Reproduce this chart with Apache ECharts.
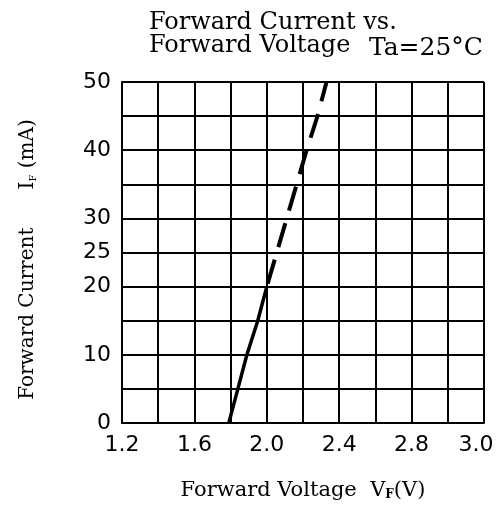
<!DOCTYPE html>
<html><head><meta charset="utf-8">
<script src="https://cdn.jsdelivr.net/npm/echarts@6/dist/echarts.min.js"></script>
<style>html,body{margin:0;padding:0;background:#fff}#c{width:503px;height:511px}</style>
</head><body><div id="c"></div>
<script>
// Forward current (mA) vs forward voltage (V)
const currents = [0, 5, 10, 15, 20, 25, 30, 35, 40, 45, 50];
const voltages = [1.79, 1.84, 1.89, 1.95, 2.00, 2.055, 2.11, 2.165, 2.22, 2.28, 2.33];
const solidUpTo = 20; // measured (solid) part; above this the curve is dashed
const xTickLabels = ['1.2', '1.6', '2.0', '2.4', '2.8', '3.0'];
const yTickLabels = [0, 10, 20, 25, 30, 40, 50];

const pts = currents.map((c, i) => [voltages[i], c]);
const solidPts = pts.filter(p => p[1] <= solidUpTo);
const dashedPts = pts.filter(p => p[1] >= solidUpTo).reverse();

const serif = 'DejaVu Serif';
const sans = 'DejaVu Sans';
const chart = echarts.init(document.getElementById('c'));
chart.setOption({
  backgroundColor: '#fff',
  animation: false,
  title: [
    { text: 'Forward Current vs.\nForward Voltage', left: 144, top: 6,
      textStyle: { fontFamily: serif, fontSize: 24, fontWeight: 'normal', lineHeight: 23, color: '#000' } },
    { text: 'Ta=25°C', right: 15, top: 31,
      textStyle: { fontFamily: serif, fontSize: 25, fontWeight: 'normal', color: '#000' } }
  ],
  grid: { left: 122, right: 19, top: 82, bottom: 88 },
  xAxis: {
    type: 'value', min: 1.2, max: 3.2, interval: 0.2,
    name: '{n|Forward Voltage  V}{s|F}{n|(V)}',
    nameLocation: 'middle', nameGap: 57,
    nameTextStyle: {
      rich: {
        n: { fontFamily: serif, fontSize: 21, color: '#000' },
        s: { fontFamily: serif, fontSize: 12, fontWeight: 'bold', color: '#000', verticalAlign: 'bottom', padding: [8, 0, 0, 0] }
      }
    },
    axisLine: { lineStyle: { color: '#000', width: 2 } },
    axisTick: { show: false },
    axisLabel: {
      fontFamily: sans, fontSize: 22, color: '#000', margin: 11,
      formatter: v => {
        const k = Math.round((v - 1.2) / 0.2);
        if (k % 2 !== 0) return '';
        const t = xTickLabels[k / 2] || '';
        return k / 2 === xTickLabels.length - 1 ? '{l|' + t + '}' : t;
      },
      rich: { l: { fontFamily: sans, fontSize: 22, color: '#000', padding: [0, 16, 0, 0] } }
    },
    splitLine: { show: true, lineStyle: { color: '#000', width: 2 } }
  },
  yAxis: {
    type: 'value', min: 0, max: 50, interval: 5,
    name: '{n|Forward Current      I}{s|F}{e| (mA)}',
    nameLocation: 'middle', nameRotate: 90, nameGap: 84,
    nameTextStyle: {
      rich: {
        n: { fontFamily: serif, fontSize: 20, color: '#000' },
        s: { fontFamily: serif, fontSize: 10, color: '#000', verticalAlign: 'bottom', padding: [8, 0, 0, 0] },
        e: { fontFamily: serif, fontSize: 20, color: '#000', padding: [0, 14, 0, 0] }
      }
    },
    axisLine: { show: true, lineStyle: { color: '#000', width: 2 } },
    axisTick: { show: false },
    axisLabel: {
      fontFamily: sans, fontSize: 22, color: '#000', margin: 11,
      formatter: v => yTickLabels.indexOf(Math.round(v)) >= 0 ? String(Math.round(v)) : ''
    },
    splitLine: { show: true, lineStyle: { color: '#000', width: 2 } }
  },
  series: [
    { type: 'line', data: solidPts, showSymbol: false, smooth: false,
      lineStyle: { color: '#000', width: 3.5 } },
    { type: 'line', data: dashedPts, showSymbol: false, smooth: false,
      lineStyle: { color: '#000', width: 4, type: [25, 13], dashOffset: 5 } }
  ]
});
</script></body></html>
